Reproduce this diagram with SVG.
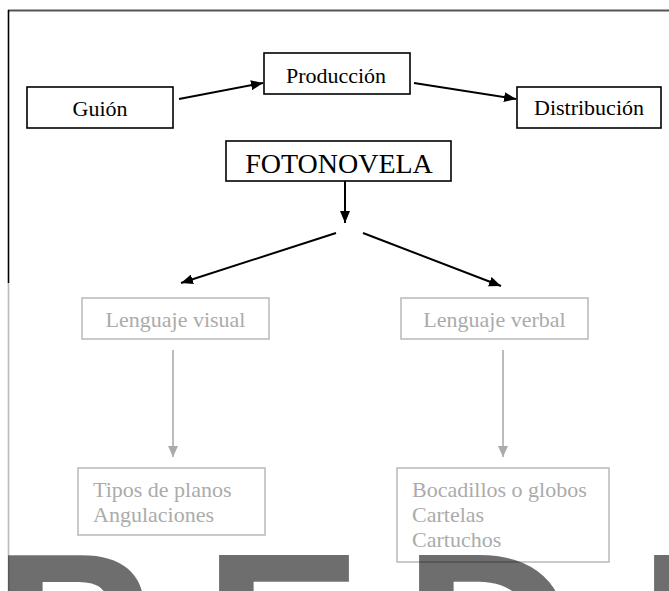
<svg xmlns="http://www.w3.org/2000/svg" width="669" height="591" viewBox="0 0 669 591">
<style>
.bx{fill:#fff;stroke:#000;stroke-width:1.6}
.gbx{fill:none;stroke:#bdbdbd;stroke-width:1.6}
.t{font-family:"Liberation Serif","Times New Roman",serif;font-size:22px;fill:#000}
.gt{font-family:"Liberation Serif","Times New Roman",serif;font-size:22px;fill:#ababab}
.c{stroke:#000;stroke-width:2;fill:none}
.gc{stroke:#ababab;stroke-width:1.6;fill:none}
</style>
<defs>
<marker id="ah" markerUnits="userSpaceOnUse" markerWidth="12" markerHeight="10" refX="12" refY="5" orient="auto" viewBox="0 0 12 10">
<path d="M0,0 L12,5 L0,10 z" fill="#000"/>
</marker>
<marker id="gah" markerUnits="userSpaceOnUse" markerWidth="11" markerHeight="10" refX="11" refY="5" orient="auto" viewBox="0 0 11 10">
<path d="M0,0 L11,5 L0,10 z" fill="#ababab"/>
</marker>
</defs>
<rect width="669" height="591" fill="#fff"/>
<g id="frame">
<line x1="8" y1="10.5" x2="669" y2="10.5" stroke="#555" stroke-width="2"/>
<line x1="8.5" y1="10" x2="8.5" y2="283" stroke="#000" stroke-width="1.6"/>
<line x1="8.5" y1="283" x2="8.5" y2="591" stroke="#bbb" stroke-width="1.6"/>
</g>
<g id="connectors">
<line class="c" x1="179" y1="99" x2="263" y2="83" marker-end="url(#ah)"/>
<line class="c" x1="414" y1="83" x2="516" y2="99" marker-end="url(#ah)"/>
<line class="c" x1="345" y1="181" x2="345" y2="223" marker-end="url(#ah)"/>
<line class="c" x1="336" y1="233" x2="181" y2="283" marker-end="url(#ah)"/>
<line class="c" x1="363" y1="233" x2="501" y2="286" marker-end="url(#ah)"/>
<line class="gc" x1="173" y1="350" x2="173" y2="457" marker-end="url(#gah)"/>
<line class="gc" x1="503" y1="350" x2="503" y2="457" marker-end="url(#gah)"/>
</g>
<g id="guion">
<rect class="bx" x="27" y="87" width="146" height="41"/>
<text class="t" x="100" y="116" text-anchor="middle">Guión</text>
</g>
<g id="produccion">
<rect class="bx" x="264" y="53" width="146" height="41"/>
<text class="t" x="336" y="83" text-anchor="middle">Producción</text>
</g>
<g id="distribucion">
<rect class="bx" x="517" y="87" width="144" height="41"/>
<text class="t" x="589" y="115" text-anchor="middle">Distribución</text>
</g>
<g id="fotonovela">
<rect class="bx" x="226" y="141" width="225" height="40"/>
<text class="t" x="339" y="173" text-anchor="middle" style="font-size:28px">FOTONOVELA</text>
</g>
<g id="lenguaje-visual">
<rect class="gbx" x="82" y="298" width="187" height="41"/>
<text class="gt" x="175.5" y="327" text-anchor="middle">Lenguaje visual</text>
</g>
<g id="lenguaje-verbal">
<rect class="gbx" x="401" y="298" width="187" height="41"/>
<text class="gt" x="494.5" y="327" text-anchor="middle">Lenguaje verbal</text>
</g>
<g id="tipos">
<rect class="gbx" x="78" y="468" width="187" height="67"/>
<text class="gt" x="93" y="497">Tipos de planos</text>
<text class="gt" x="93" y="522">Angulaciones</text>
</g>
<g id="bocadillos">
<rect class="gbx" x="397" y="468" width="212" height="94"/>
<text class="gt" x="412" y="497">Bocadillos o globos</text>
<text class="gt" x="412" y="522">Cartelas</text>
<text class="gt" x="412" y="547">Cartuchos</text>
</g>
<g id="watermark">
<text x="-8 203 403 638" y="720" font-family="'Liberation Sans',Arial,sans-serif" font-weight="bold" font-size="240" fill="#000" fill-opacity="0.57">PEDI</text>
</g>
</svg>
